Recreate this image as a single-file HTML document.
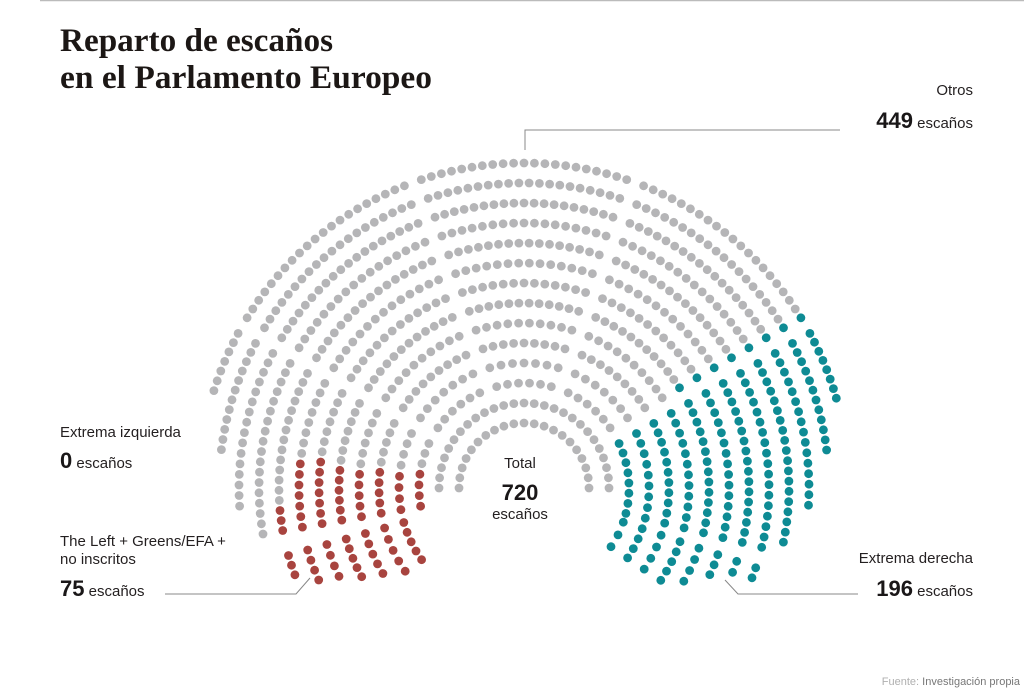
<!DOCTYPE html>
<html><head><meta charset="utf-8"><style>
html,body{margin:0;padding:0;background:#fff;}
svg{display:block;}
.s{font-family:"Liberation Sans",sans-serif;fill:#231f20;}
.b{font-family:"Liberation Sans",sans-serif;font-weight:bold;fill:#1a1718;}
</style></head><body>
<svg id="c" width="1024" height="690" viewBox="0 0 1024 690" xmlns="http://www.w3.org/2000/svg">
<rect width="1024" height="690" fill="#fff"/>
<line x1="40" y1="0.5" x2="1024" y2="0.5" stroke="#bbb" stroke-width="1.5"/>
<text x="60" y="51" font-family="Liberation Serif,serif" font-weight="bold" font-size="33" fill="#1c1715" textLength="273" lengthAdjust="spacingAndGlyphs">Reparto de escaños</text>
<text x="60" y="88" font-family="Liberation Serif,serif" font-weight="bold" font-size="33" fill="#1c1715" textLength="372" lengthAdjust="spacingAndGlyphs">en el Parlamento Europeo</text>

<text class="s" x="973" y="95" font-size="15" text-anchor="end">Otros</text>
<text x="973" y="128" text-anchor="end"><tspan class="b" font-size="22">449</tspan><tspan class="s" font-size="15"> escaños</tspan></text>
<polyline points="525,150 525,130 840,130" fill="none" stroke="#888" stroke-width="1"/>

<text class="s" x="60" y="437" font-size="15">Extrema izquierda</text>
<text x="60" y="468"><tspan class="b" font-size="22">0</tspan><tspan class="s" font-size="15"> escaños</tspan></text>

<text class="s" x="520" y="468" font-size="15" text-anchor="middle">Total</text>
<text class="b" x="520" y="500" font-size="22" text-anchor="middle">720</text>
<text class="s" x="520" y="519" font-size="15" text-anchor="middle">escaños</text>

<text class="s" x="60" y="546" font-size="15">The Left + Greens/EFA +</text>
<text class="s" x="60" y="564" font-size="15">no inscritos</text>
<text x="60" y="596"><tspan class="b" font-size="22">75</tspan><tspan class="s" font-size="15"> escaños</tspan></text>
<polyline points="165,594 296,594 310,578" fill="none" stroke="#888" stroke-width="1"/>

<text class="s" x="973" y="563" font-size="15" text-anchor="end">Extrema derecha</text>
<text x="973" y="596" text-anchor="end"><tspan class="b" font-size="22">196</tspan><tspan class="s" font-size="15"> escaños</tspan></text>
<polyline points="725,580 738,594 858,594" fill="none" stroke="#888" stroke-width="1"/>

<text x="1020" y="685" font-size="11" text-anchor="end" font-family="Liberation Sans,sans-serif"><tspan fill="#b0b0b0">Fuente: </tspan><tspan fill="#777">Investigación propia</tspan></text>
<g id="dots"></g>
</svg>
<script>
(function(){
var g=document.getElementById('dots');
var cx=524,cy=488;
var GREY='#b5b5b7',RED='#a8443f',TEAL='#0e8b94';
var out='';
function dot(x,y,c){out+='<circle cx="'+x.toFixed(1)+'" cy="'+y.toFixed(1)+'" r="4.4" fill="'+c+'"/>';}
function R(i){return 65+20*i;}
function wedge(a0,a1,i0,i1,col,gapA,gapB,keep){
  for(var i=i0;i<=i1;i++){
    var r=R(i);
    var t0=a0+(gapA?Math.asin(9/r)*180/Math.PI:0);
    var t1=a1-(gapB?Math.asin(9/r)*180/Math.PI:0);
    if(t1<=t0) continue;
    var len=(t1-t0)*Math.PI/180*r;
    var n=Math.max(1,Math.floor(len/10)+1);
    var step=n>1?(t1-t0)/(n-1):0;
    var pts=[];
    for(var k=0;k<n;k++){
      var a=(n>1?t0+k*step:(t0+t1)/2);
      var rad=a*Math.PI/180;
      var x=cx+r*Math.cos(rad),y=cy-r*Math.sin(rad);
      if(keep && !keep(x,y)) continue;
      pts.push([x,y,a]);
    }
    for(var k=0;k<pts.length;k++) dot(pts[k][0],pts[k][1],col(i,pts[k][2],k,pts.length));
  }
}
var grey=function(){return GREY;};
function clipL(x,y){var dx=x-448,dy=y-400;return dx*dx+dy*dy<=235*235||y<400;}
function clipR(x,y){var dx=x-600,dy=y-400;return dx*dx+dy*dy<=235*235||y<400;}
wedge(0,180,0,1,grey,false,false);
wedge(150,190,2,13,function(i,a){return ((i<=8&&a>172)||(i==9&&a>183))?RED:GREY;},true,false,clipL);
wedge(110,150,2,13,grey,true,true);
wedge(70,110,2,13,grey,true,true);
wedge(30,70,2,13,function(i,a,k){return (k==0&&i>=6)?TEAL:GREY;},true,true);
wedge(-14,30,2,13,function(){return TEAL;},false,true,clipR);
wedge(196,215,3,9,function(){return RED;},false,false,function(x,y){return y<=582;});
wedge(-34,-19,2,9,function(){return TEAL;},false,false,function(x,y){return y<=583;});
g.innerHTML=out;
})();
</script>
</body></html>
